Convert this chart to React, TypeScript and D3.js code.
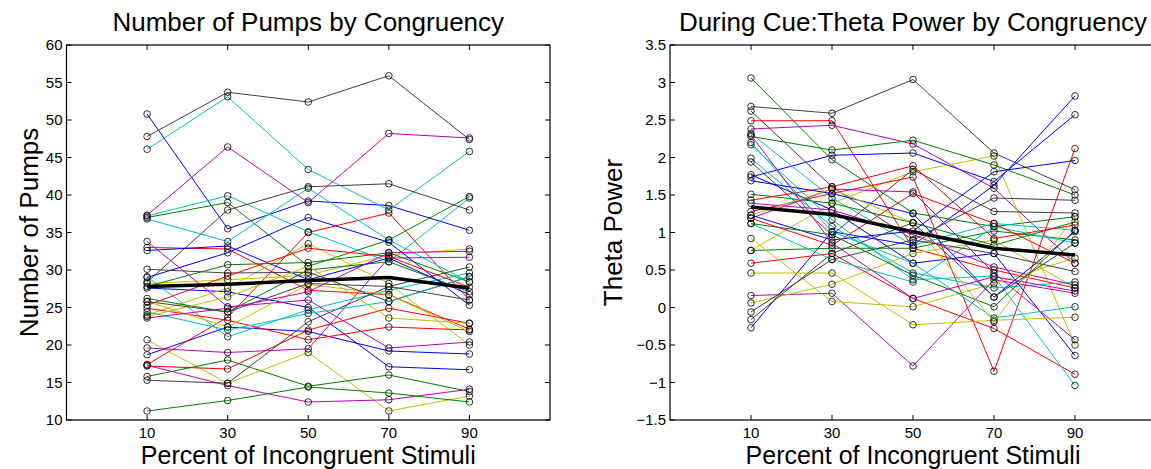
import React from 'react';
import * as d3 from 'd3';

// ---------- data ----------
const xValues = [10, 30, 50, 70, 90];
const xTicks = [10, 30, 50, 70, 90];
const pumpsTicks = [10, 15, 20, 25, 30, 35, 40, 45, 50, 55, 60];
const thetaTicks = [-1.5, -1, -0.5, 0, 0.5, 1, 1.5, 2, 2.5, 3, 3.5];

// subjects, colour order follows MATLAB cycle b,g,r,c,m,y,k
const pumpsSeries: number[][] = [
  [50.8, 35.5, 39.2, 38.6, 35.3],
  [37.0, 39.0, 30.5, 34.0, 39.8],
  [33.0, 32.8, 27.3, 26.7, 22.1],
  [46.1, 53.1, 43.4, 38.0, 45.8],
  [37.3, 46.4, 39.0, 48.2, 47.6],
  [20.7, 14.9, 19.0, 11.2, 13.2],
  [47.8, 53.7, 52.4, 55.9, 47.4],

  [18.7, 22.4, 21.8, 19.2, 18.8],
  [15.8, 18.0, 14.5, 16.0, 13.8],
  [17.4, 23.7, 35.0, 37.6, 26.0],
  [37.2, 39.9, 35.1, 31.1, 39.6],
  [17.3, 14.6, 12.4, 12.7, 14.1],
  [28.2, 28.7, 29.3, 32.0, 32.8],
  [28.4, 38.0, 41.1, 41.5, 38.0],

  [27.6, 27.1, 25.0, 17.1, 16.7],
  [11.2, 12.6, 14.4, 13.6, 12.4],
  [17.2, 16.8, 22.0, 24.9, 22.9],
  [29.1, 21.1, 24.7, 27.3, 29.6],
  [19.6, 19.0, 19.5, 31.6, 31.7],
  [24.0, 27.6, 33.5, 28.2, 20.0],
  [15.3, 14.9, 23.1, 27.8, 30.4],

  [29.0, 32.3, 37.0, 33.7, 25.3],
  [26.2, 24.4, 30.0, 31.1, 27.1],
  [24.9, 23.3, 20.7, 22.4, 22.0],
  [36.8, 33.8, 40.9, 34.0, 28.4],
  [33.8, 25.1, 26.0, 19.6, 20.4],
  [25.8, 22.4, 28.1, 26.7, 21.8],
  [30.1, 29.6, 29.7, 25.8, 29.1],

  [32.6, 33.2, 28.7, 31.6, 26.7],
  [27.8, 30.7, 31.0, 32.3, 28.4],
  [25.3, 29.2, 32.9, 31.8, 27.7],
  [24.4, 22.0, 24.2, 25.8, 29.1],
  [23.6, 24.9, 27.1, 32.3, 32.5],
  [23.8, 26.4, 30.5, 23.6, 22.9],
  [25.8, 24.4, 28.2, 27.8, 26.0],
];
const pumpsMean = [27.8, 28.1, 28.6, 29.0, 27.6];

const thetaSeries: number[][] = [
  [1.74, 2.03, 2.06, 1.68, 2.57],
  [3.06, 1.97, 1.26, 1.08, 1.21],
  [2.49, 2.49, 0.79, 0.50, 0.26],
  [2.32, 1.46, 0.83, 1.12, 1.03],
  [2.38, 2.43, 2.18, 1.59, 0.59],
  [0.76, 1.39, 1.81, 2.02, -0.50],
  [2.68, 2.59, 3.04, 2.06, 1.57],

  [-0.27, 1.01, 0.83, 1.63, 2.82],
  [2.28, 2.10, 2.23, 1.90, 1.50],
  [1.28, 1.52, 1.74, -0.85, 2.12],
  [1.99, 1.08, 0.46, 0.26, 0.34],
  [0.16, 0.19, -0.78, 0.37, 0.19],
  [0.06, 0.31, 0.72, 0.90, 0.26],
  [2.62, 1.61, 0.90, 1.46, 1.43],

  [1.77, 1.30, 0.59, 0.72, -0.64],
  [1.51, 1.39, 1.13, 0.83, 1.14],
  [0.59, 0.72, 0.12, -0.28, -0.89],
  [2.17, 1.17, 0.37, 0.42, -1.04],
  [1.19, 1.58, 1.54, 0.46, -0.43],
  [0.46, 0.46, -0.23, -0.17, -0.13],
  [1.94, 0.97, 1.84, 1.28, 1.26],

  [1.23, 0.90, 1.02, 1.81, 1.96],
  [0.76, 0.79, 0.79, 1.02, 0.90],
  [1.43, 1.61, 1.89, 0.92, 1.10],
  [1.12, 0.64, 0.34, 1.08, 0.86],
  [1.39, 1.30, 0.97, 0.54, 0.30],
  [0.92, 0.08, 0.01, 0.32, 0.66],
  [-0.06, 0.64, 0.90, 0.72, 0.48],

  [1.69, 1.52, 1.25, 0.14, 1.01],
  [1.12, 0.97, 0.43, 0.01, 1.03],
  [1.19, 0.83, 1.52, 1.12, 0.59],
  [2.20, 1.01, 0.59, -0.14, 0.01],
  [2.30, 0.86, 0.12, 0.41, 0.22],
  [1.23, 1.58, 1.13, -0.19, 1.21],
  [-0.16, 0.72, 1.13, 0.14, 0.86],
];
const thetaMean = [1.34, 1.24, 1.01, 0.79, 0.70];

const colorCycle = ['#0000ff', '#008000', '#ff0000', '#00bfbf', '#bf00bf', '#bfbf00', '#404040'];

const FONT = '"Liberation Sans", Arial, Helvetica, sans-serif';
const W = 1151;
const H = 469;

type PanelProps = {
  left: number;
  right: number;
  top: number;
  bottom: number;
  yDomain: [number, number];
  yTicks: number[];
  series: number[][];
  mean: number[];
  title: string;
  ylabel: string;
  ylabelX: number;
  fmt: (v: number) => string;
};

function Panel(p: PanelProps) {
  const x = d3.scaleLinear().domain([-10, 110]).range([p.left, p.right]);
  const y = d3.scaleLinear().domain(p.yDomain).range([p.bottom, p.top]);
  const line = d3
    .line<number>()
    .x((_, i) => x(xValues[i]))
    .y((d) => y(d));
  const tl = 5;
  const cx = (p.left + p.right) / 2;
  return (
    <g>
      {p.series.map((s, i) => (
        <g key={i}>
          <path d={line(s) || ''} fill="none" stroke={colorCycle[i % 7]} strokeWidth={1} />
          {s.map((v, j) => (
            <circle key={j} cx={x(xValues[j])} cy={y(v)} r={3.3} fill="none" stroke="#000" strokeWidth={0.8} />
          ))}
        </g>
      ))}
      <path d={line(p.mean) || ''} fill="none" stroke="#000" strokeWidth={3.5} strokeLinejoin="round" />
      <rect x={p.left} y={p.top} width={p.right - p.left} height={p.bottom - p.top} fill="none" stroke="#000" strokeWidth={1.2} />
      {xTicks.map((t) => (
        <g key={'x' + t}>
          <line x1={x(t)} x2={x(t)} y1={p.bottom} y2={p.bottom - tl} stroke="#000" />
          <line x1={x(t)} x2={x(t)} y1={p.top} y2={p.top + tl} stroke="#000" />
          <text x={x(t)} y={p.bottom + 18} textAnchor="middle" fontSize={15} fontFamily={FONT}>
            {String(t)}
          </text>
        </g>
      ))}
      {p.yTicks.map((t) => (
        <g key={'y' + t}>
          <line x1={p.left} x2={p.left + tl} y1={y(t)} y2={y(t)} stroke="#000" />
          <line x1={p.right} x2={p.right - tl} y1={y(t)} y2={y(t)} stroke="#000" />
          <text x={p.left - 4} y={y(t)} dy="0.35em" textAnchor="end" fontSize={15} fontFamily={FONT}>
            {p.fmt(t)}
          </text>
        </g>
      ))}
      <text x={cx} y={31} textAnchor="middle" fontSize={26} fontFamily={FONT}>
        {p.title}
      </text>
      <text x={cx} y={464} textAnchor="middle" fontSize={25} fontFamily={FONT}>
        Percent of Incongruent Stimuli
      </text>
      <text
        transform={`translate(${p.ylabelX},${(p.top + p.bottom) / 2}) rotate(-90)`}
        textAnchor="middle"
        fontSize={26}
        fontFamily={FONT}
      >
        {p.ylabel}
      </text>
    </g>
  );
}

export default function App() {
  const fmtTheta = (v: number) => (v < 0 ? '\u2212' + String(-v) : String(v));
  return (
    <svg
      width={W}
      height={H}
      style={{ position: 'absolute', left: 0, top: 0, background: '#fff' }}
      xmlns="http://www.w3.org/2000/svg"
    >
      <rect width={W} height={H} fill="#fff" />
      <Panel
        left={66.5}
        right={550}
        top={45}
        bottom={420}
        yDomain={[10, 60]}
        yTicks={pumpsTicks}
        series={pumpsSeries}
        mean={pumpsMean}
        title="Number of Pumps by Congruency"
        ylabel="Number of Pumps"
        ylabelX={38}
        fmt={(v) => String(v)}
      />
      <Panel
        left={670}
        right={1156}
        top={45}
        bottom={420}
        yDomain={[-1.5, 3.5]}
        yTicks={thetaTicks}
        series={thetaSeries}
        mean={thetaMean}
        title="During Cue:Theta Power by Congruency"
        ylabel="Theta Power"
        ylabelX={622}
        fmt={fmtTheta}
      />
    </svg>
  );
}
